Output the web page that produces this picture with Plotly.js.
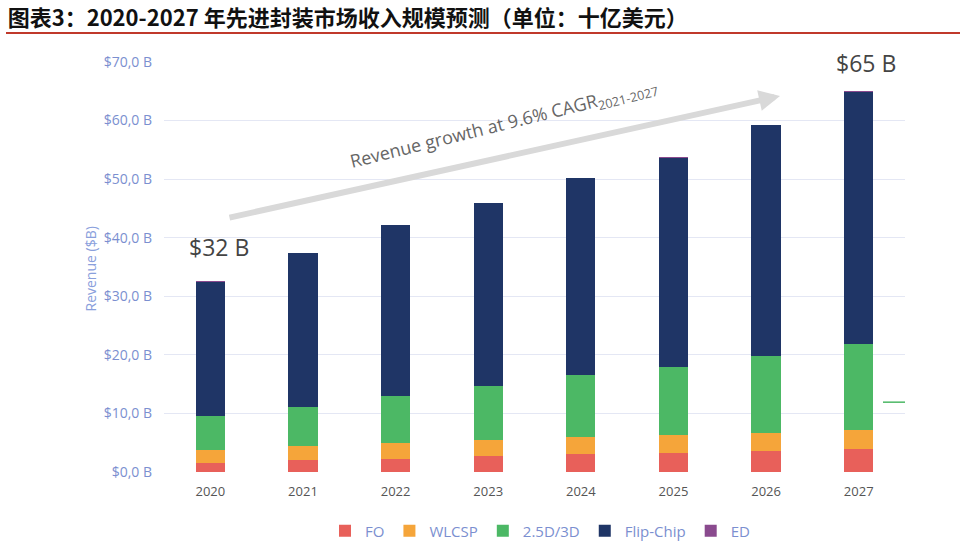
<!DOCTYPE html>
<html><head><meta charset="utf-8">
<script src="https://cdn.plot.ly/plotly-3.0.1.min.js"></script>
<style>html,body{margin:0;padding:0;background:#fff}#chart{width:960px;height:558px}</style>
</head><body><div id="chart"></div>
<script>
const years = ["2020","2021","2022","2023","2024","2025","2026","2027"];
const fo       = [1.5, 2.0, 2.3, 2.7, 3.1, 3.3, 3.6, 3.9];
const wlcsp    = [2.2, 2.5, 2.6, 2.75, 2.9, 2.95, 3.0, 3.2];
const d25_3d   = [5.9, 6.6, 8.0, 9.15, 10.5, 11.75, 13.2, 14.7];
const flipChip = [22.9, 26.3, 29.3, 31.3, 33.7, 35.6, 39.4, 43.0];
const ed       = [0.05, 0.05, 0.05, 0.07, 0.08, 0.1, 0.1, 0.2];
const tickVals = [0, 10, 20, 30, 40, 50, 60, 70];
const tickLabels = ["$0,0 B","$10,0 B","$20,0 B","$30,0 B","$40,0 B","$50,0 B","$60,0 B","$70,0 B"];

const L = 164, R = 905, T = 62, B = 473;
const px = x => (x - L) / (R - L);
const py = y => (B - y) / (B - T);

function bar(name, vals, color) {
  return {type: 'bar', name: name, x: years, y: vals, marker: {color: color}, width: 0.315, hoverinfo: 'skip'};
}
const data = [
  bar('FO', fo, '#e8605a'),
  bar('WLCSP', wlcsp, '#f5a53a'),
  bar('2.5D/3D', d25_3d, '#4cb865'),
  bar('Flip-Chip', flipChip, '#1f3566'),
  bar('ED', ed, '#8a4a8e')
];
const F = '"Open Sans", Lato, sans-serif';
const layout = {
  width: 960, height: 558,
  margin: {l: L, r: 960 - R, t: T, b: 558 - B},
  barmode: 'stack',
  paper_bgcolor: '#fff', plot_bgcolor: '#fff',
  font: {family: F, color: '#7b8fd0'},
  title: {text: '<b>图表3：2020-2027 年先进封装市场收入规模预测（单位：十亿美元）</b>',
          x: 0.008, xanchor: 'left', xref: 'container', y: 0.968, yref: 'container', yanchor: 'middle',
          font: {family: '"Noto Sans CJK SC", sans-serif', size: 22, color: '#111'}},
  xaxis: {type: 'category', range: [-0.5, 7.5], showgrid: false, zeroline: false, showline: false,
          ticks: '', tickfont: {family: F, size: 13, color: '#555'}, ticklabelstandoff: 10},
  yaxis: {range: [0, 70], tickvals: tickVals, ticktext: tickLabels, showgrid: true, gridcolor: '#e4e7f4', gridwidth: 1,
          zeroline: false, showline: false, ticks: '', tickfont: {family: F, size: 14, color: '#7b8fd0'}, ticklabelstandoff: 11, fixedrange: true},
  showlegend: true,
  legend: {orientation: 'h', x: px(540), xanchor: 'center', y: py(531), yanchor: 'middle',
           font: {family: F, size: 15, color: '#7b8fd0'}, itemwidth: 30, traceorder: 'normal'},
  shapes: [
    {type: 'line', xref: 'paper', yref: 'paper', x0: px(6), x1: px(960), y0: py(33), y1: py(33), line: {color: '#c0392b', width: 2}},
    {type: 'line', xref: 'paper', yref: 'paper', x0: px(883), x1: px(905), y0: py(403), y1: py(403), line: {color: '#4cb865', width: 1.5}}
  ],
  annotations: [
    {xref: 'paper', yref: 'paper', x: px(780), y: py(96), ax: -552, ay: 122, text: '', showarrow: true,
     arrowhead: 2, arrowsize: 0.7, arrowwidth: 6, arrowcolor: '#d9d9d9'},
    {xref: 'paper', yref: 'paper', x: px(504), y: py(125), xanchor: 'center', yanchor: 'middle',
     text: 'Revenue growth at 9.6% CAGR<sub>2021-2027</sub>', showarrow: false,
     textangle: -14, font: {family: F, size: 18, color: '#666'}},
    {xref: 'paper', yref: 'paper', x: px(219), y: py(247), xanchor: 'center', yanchor: 'middle', text: '$32 B', showarrow: false,
     font: {family: F, size: 23, color: '#444'}},
    {xref: 'paper', yref: 'paper', x: px(866), y: py(63), xanchor: 'center', yanchor: 'middle', text: '$65 B', showarrow: false,
     font: {family: F, size: 23, color: '#444'}},
    {xref: 'paper', yref: 'paper', x: px(90), y: py(270), xanchor: 'center', yanchor: 'middle', text: 'Revenue ($B)', showarrow: false,
     textangle: -90, font: {family: F, size: 14, color: '#8aa0dc'}}
  ]
};
Plotly.newPlot('chart', data, layout, {displayModeBar: false, staticPlot: true});
</script></body></html>
